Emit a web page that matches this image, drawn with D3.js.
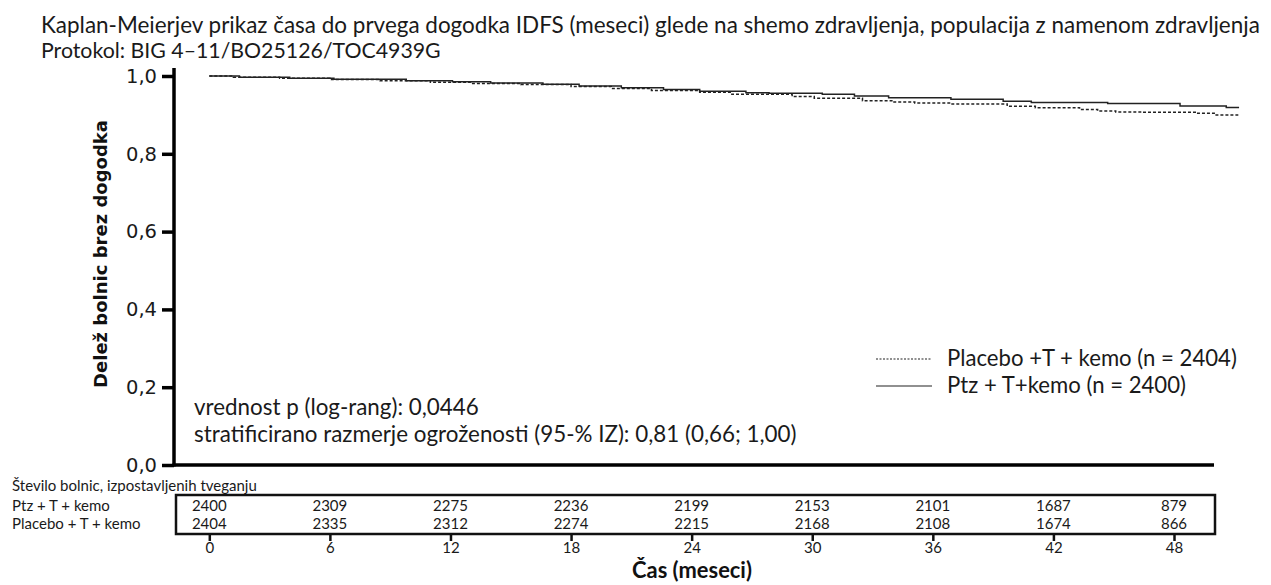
<!DOCTYPE html>
<html>
<head>
<meta charset="utf-8">
<script src="https://cdn.jsdelivr.net/npm/d3@7"></script>
<style>
  html, body { margin: 0; padding: 0; background: #fff; }
  svg { display: block; }
</style>
</head>
<body>
<script>
// Time grid (months) for the x axis and the number-at-risk table
const months = [0, 6, 12, 18, 24, 30, 36, 42, 48];
const riskPtz = [2400, 2309, 2275, 2236, 2199, 2153, 2101, 1687, 879];
const riskPlacebo = [2404, 2335, 2312, 2274, 2215, 2168, 2108, 1674, 866];
const yTicks = [0, 0.2, 0.4, 0.6, 0.8, 1.0];

// Kaplan-Meier step estimates: Ptz + T + kemo
const ptzTime = [0, 1.5, 4, 6.2, 9.8, 12.1, 14, 16.6, 18.4, 20.5, 22.6, 24.4, 26.7, 27.85, 30.5, 32.1, 33.8, 36.9, 39.5, 40.9, 44.7, 48.3, 50.6, 51.2];
const ptzSurv = [1.0, 0.997, 0.994, 0.9915, 0.988, 0.985, 0.982, 0.979, 0.974, 0.970, 0.965, 0.961, 0.957, 0.9555, 0.953, 0.9486, 0.9442, 0.940, 0.935, 0.932, 0.929, 0.923, 0.919, 0.917];

// Kaplan-Meier step estimates: Placebo + T + kemo
const plaTime = [0, 1.2, 3.5, 6.0, 8.5, 11.0, 13.0, 15.5, 18.0, 20.0, 22.0, 24.4, 26.0, 29.0, 30.1, 32.5, 34.0, 35.1, 36.9, 39.7, 41.1, 43.3, 44.2, 45.1, 46.4, 49.1, 50.0, 51.2];
const plaSurv = [1.0, 0.997, 0.994, 0.991, 0.988, 0.984, 0.981, 0.978, 0.973, 0.968, 0.963, 0.958, 0.953, 0.947, 0.943, 0.9365, 0.933, 0.9306, 0.928, 0.922, 0.9185, 0.914, 0.910, 0.9075, 0.9067, 0.904, 0.900, 0.900];

const W = 1271, H = 585;
const svg = d3.select("body").append("svg").attr("width", W).attr("height", H);

const x = d3.scaleLinear().domain([0, 48]).range([209.3, 1174]);
const y = d3.scaleLinear().domain([0, 1]).range([465, 76]);

const sans = "Lato, 'Open Sans', sans-serif";
const verdana = "'DejaVu Sans', Verdana, sans-serif";
const ink = "#1a1a1a";

// Size a text so that its rendered width equals the given width
function fitWidth(sel, width) {
  const size = +sel.attr("font-size");
  const w = sel.node().getComputedTextLength();
  const s = size * width / w;
  sel.attr("font-size", s);
  return s;
}
function addText(px, py, str, size, opts = {}) {
  return svg.append("text").attr("x", px).attr("y", py)
    .attr("font-family", opts.family || sans).attr("font-size", size)
    .attr("font-weight", opts.weight || null)
    .attr("text-anchor", opts.anchor || null)
    .attr("fill", opts.fill || ink).text(str);
}

// Titles
const t1 = addText(41, 33, "Kaplan-Meierjev prikaz časa do prvega dogodka IDFS (meseci) glede na shemo zdravljenja, populacija z namenom zdravljenja", 20);
fitWidth(t1, 1219);
const t2 = addText(41, 58, "Protokol: BIG 4–11/BO25126/TOC4939G", 20);
fitWidth(t2, 400);

// Y axis (ticks and labels), with the spine drawn separately
const yAxis = d3.axisLeft(y).tickValues(yTicks).tickSize(12).tickSizeOuter(0).tickPadding(5)
  .tickFormat(d => d3.format(".1f")(d).replace(".", ","));
const gy = svg.append("g").attr("transform", "translate(174,0)").call(yAxis);
gy.select(".domain").remove();
gy.selectAll(".tick line").attr("stroke", "#000").attr("stroke-width", 3.5);
gy.selectAll(".tick text").attr("font-family", verdana).attr("font-size", 19.5).attr("fill", ink);

svg.append("line").attr("x1", 174).attr("x2", 174).attr("y1", 68).attr("y2", 466.5)
  .attr("stroke", "#000").attr("stroke-width", 3.5);
svg.append("line").attr("x1", 172.5).attr("x2", 1214).attr("y1", 465).attr("y2", 465)
  .attr("stroke", "#000").attr("stroke-width", 3.5);

// Y axis title
svg.append("text")
  .attr("transform", "translate(107,254) rotate(-90)")
  .attr("text-anchor", "middle")
  .attr("font-family", verdana).attr("font-weight", "bold").attr("font-size", 18).attr("fill", "#111")
  .text("Delež bolnic brez dogodka");

// Survival curves
const line = d3.line().x(d => x(d[0])).y(d => y(d[1])).curve(d3.curveStepAfter);
const ptzData = ptzTime.map((t, i) => [t, ptzSurv[i]]);
const plaData = plaTime.map((t, i) => [t, plaSurv[i]]);

svg.append("path").attr("d", line(ptzData)).attr("fill", "none")
  .attr("stroke", "#222").attr("stroke-width", 1.5);
svg.append("path").attr("d", line(plaData)).attr("fill", "none")
  .attr("stroke", "#222").attr("stroke-width", 1.5).attr("stroke-dasharray", "3,2");

// Legend
const legend = [
  { label: "Placebo +T + kemo (n = 2404)", dash: "2,1.5", y: 359 },
  { label: "Ptz + T+kemo (n = 2400)", dash: null, y: 386 }
];
let legendSize = null;
legend.forEach(l => {
  svg.append("line").attr("x1", 876).attr("x2", 932).attr("y1", l.y).attr("y2", l.y)
    .attr("stroke", "#222").attr("stroke-width", 1.2).attr("stroke-dasharray", l.dash);
  const t = addText(947, l.y + 7, l.label, legendSize || 20);
  if (!legendSize) legendSize = fitWidth(t, 290);
});

// Test statistics
const s2 = addText(194, 442, "stratificirano razmerje ogroženosti (95-% IZ): 0,81 (0,66; 1,00)", 20);
const statSize = fitWidth(s2, 603);
addText(194, 415, "vrednost p (log-rang): 0,0446", statSize);

// Number-at-risk table
addText(12, 491, "Število bolnic, izpostavljenih tveganju", 15);
svg.append("rect").attr("x", 176).attr("y", 495).attr("width", 1039).attr("height", 39)
  .attr("fill", "none").attr("stroke", "#111").attr("stroke-width", 2.5);

const rows = [
  { label: "Ptz + T + kemo", values: riskPtz, y: 510.5 },
  { label: "Placebo + T + kemo", values: riskPlacebo, y: 528.5 }
];
rows.forEach(r => {
  addText(12, r.y, r.label, 15);
  svg.append("g").selectAll("text").data(r.values).join("text")
    .attr("x", (d, i) => x(months[i])).attr("y", r.y)
    .attr("text-anchor", "middle")
    .attr("font-family", sans).attr("font-size", 15).attr("fill", ink)
    .text(d => d);
});

// Time axis below the table
const xAxis = d3.axisBottom(x).tickValues(months).tickSize(7).tickSizeOuter(0).tickPadding(1);
const gx = svg.append("g").attr("transform", "translate(0,534)").call(xAxis);
gx.select(".domain").remove();
gx.selectAll(".tick line").attr("stroke", "#111").attr("stroke-width", 2.5);
gx.selectAll(".tick text").attr("font-family", sans).attr("font-size", 15).attr("fill", ink);

const xt = addText(692, 578, "Čas (meseci)", 19, { weight: "bold", anchor: "middle", fill: "#111" });
fitWidth(xt, 120);
</script>
</body>
</html>
